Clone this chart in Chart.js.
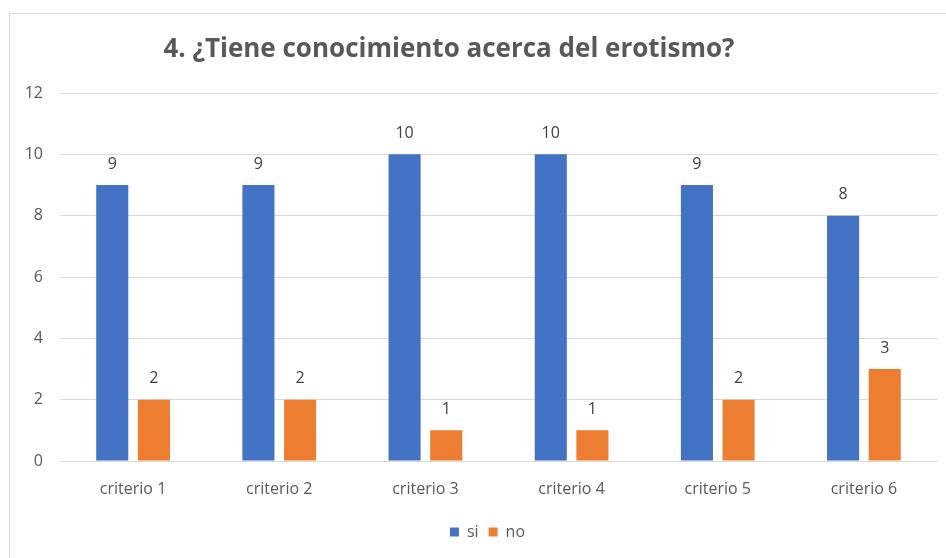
<!DOCTYPE html>
<html>
<head>
<meta charset="utf-8">
<script src="https://cdn.jsdelivr.net/npm/chart.js@4.4.1/dist/chart.umd.min.js"></script>
<style>
  html, body { margin: 0; padding: 0; background: #fff; }
  #wrap { position: relative; width: 946px; height: 558px; }
  #frame { position: absolute; left: 9px; top: 13px; width: 960px; height: 560px; border: 1px solid #d9d9d9; box-sizing: border-box; }
  #chart { position: absolute; left: 0; top: 0; }
</style>
</head>
<body>
<div id="wrap">
  <div id="frame"></div>
  <canvas id="chart" width="946" height="558"></canvas>
</div>
<script>
// Survey answers per criterion
const titleText = '4. ¿Tiene conocimiento acerca del erotismo?';
const categories = ['criterio 1', 'criterio 2', 'criterio 3', 'criterio 4', 'criterio 5', 'criterio 6'];
const siValues = [9, 9, 10, 10, 9, 8];
const noValues = [2, 2, 1, 1, 2, 3];
const yTicks = [0, 2, 4, 6, 8, 10, 12];

const FONT = '"Open Sans", sans-serif';

// Value labels above each bar plus the chart title
const labelPlugin = {
    id: 'barLabels',
    afterLayout(chart) {
        // nudge the legend a bit to the right
        chart.legend.left += 10;
        chart.legend.right += 10;
    },
    afterDatasetsDraw(chart) {
        const ctx = chart.ctx;
        ctx.save();
        ctx.font = '16px ' + FONT;
        ctx.fillStyle = '#404040';
        ctx.textAlign = 'center';
        ctx.textBaseline = 'middle';
        chart.data.datasets.forEach((ds, i) => {
            chart.getDatasetMeta(i).data.forEach((bar, j) => {
                ctx.fillText(String(ds.data[j]), bar.x, bar.y - 21);
            });
        });
        ctx.font = 'bold 26px ' + FONT;
        ctx.fillStyle = '#595959';
        ctx.fillText(titleText, 449, 50);
        ctx.restore();
    }
};

new Chart(document.getElementById('chart').getContext('2d'), {
    type: 'bar',
    data: {
        labels: categories,
        datasets: [
            { label: 'si', data: siValues, backgroundColor: '#4472c4', borderColor: '#4472c4', borderWidth: 0 },
            { label: 'no', data: noValues, backgroundColor: '#ed7d31', borderColor: '#ed7d31', borderWidth: 0 }
        ]
    },
    options: {
        responsive: false,
        animation: false,
        categoryPercentage: 0.57,
        barPercentage: 0.77,
        layout: { padding: { top: 93, left: 18, right: 9, bottom: 8 } },
        plugins: {
            title: { display: false },
            tooltip: { enabled: false },
            legend: {
                position: 'bottom',
                labels: {
                    font: { family: FONT, size: 16 },
                    color: '#595959',
                    boxWidth: 9,
                    boxHeight: 9,
                    padding: 10
                }
            }
        },
        scales: {
            x: {
                grid: { display: false },
                border: { display: false },
                ticks: { font: { family: FONT, size: 16 }, color: '#595959', padding: 11 },
                afterFit(axis) { axis.height = 53; }
            },
            y: {
                min: 0,
                max: 12,
                afterBuildTicks(axis) { axis.ticks = yTicks.map(v => ({ value: v })); },
                grid: { color: '#d9d9d9', drawTicks: false },
                border: { display: false },
                ticks: { font: { family: FONT, size: 16 }, color: '#595959', padding: 17 },
                afterFit(axis) { axis.width = 42; }
            }
        }
    },
    plugins: [labelPlugin]
});
</script>
</body>
</html>
